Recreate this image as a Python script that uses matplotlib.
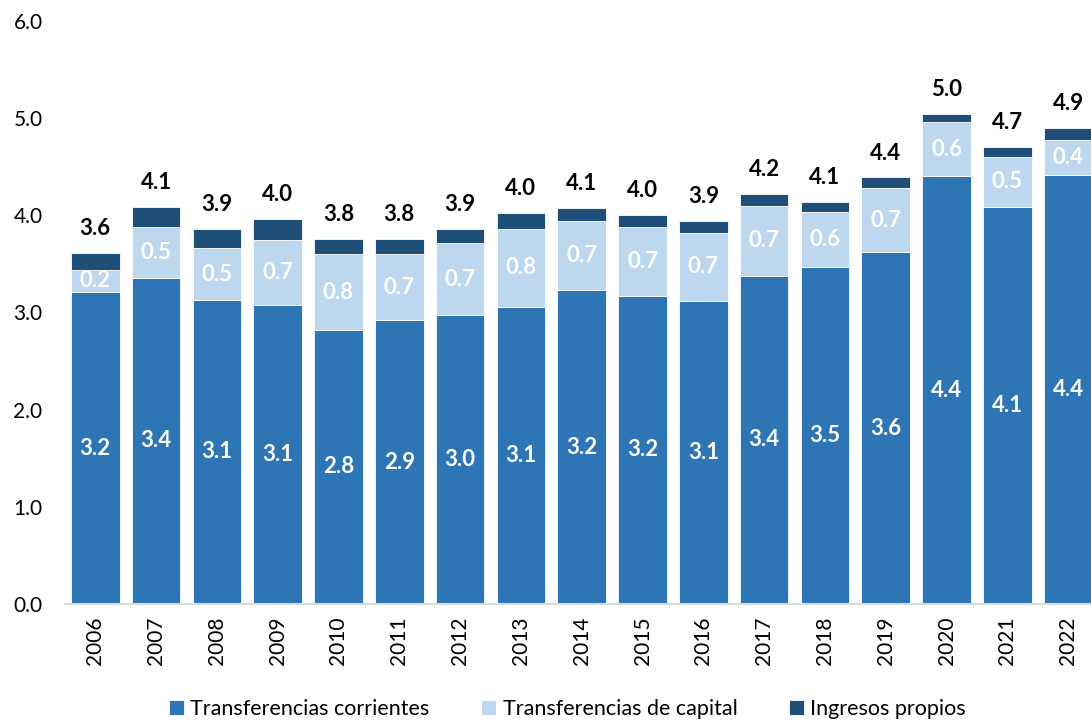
""" Stacked bars: transferencias e ingresos propios, 2006-2022
"""
import matplotlib
matplotlib.use('Agg')
import matplotlib.pyplot as plt
import numpy as np

# data
years = ['2006', '2007', '2008', '2009', '2010', '2011', '2012', '2013', '2014',
         '2015', '2016', '2017', '2018', '2019', '2020', '2021', '2022']
transf_corrientes = [3.21, 3.36, 3.13, 3.08, 2.82, 2.92, 2.97, 3.06, 3.23,
                     3.17, 3.12, 3.38, 3.47, 3.62, 4.40, 4.09, 4.42]
transf_capital = [0.23, 0.52, 0.53, 0.67, 0.78, 0.68, 0.74, 0.80, 0.71,
                  0.71, 0.70, 0.72, 0.56, 0.66, 0.56, 0.51, 0.36]
ingresos_propios = [0.17, 0.21, 0.20, 0.21, 0.16, 0.16, 0.15, 0.16, 0.14,
                    0.12, 0.12, 0.12, 0.11, 0.11, 0.08, 0.10, 0.12]
series_names = ['Transferencias corrientes', 'Transferencias de capital', 'Ingresos propios']

# fig params
plt.rcParams['font.family'] = ['Lato', 'DejaVu Sans']
col_tc = '#2E75B6'
col_tk = '#BDD7EE'
col_ip = '#1F4E79'
fsize_tick = 15
fsize_lab = 16
bar_w = 0.8

fig = plt.figure(figsize=(10.91, 7.21), dpi=100)
ax = fig.add_axes([0.0594, 0.1623, 0.9476, 0.8086])

x = np.arange(len(years))
tc = np.array(transf_corrientes)
tk = np.array(transf_capital)
ip = np.array(ingresos_propios)
tot = tc + tk + ip

b1 = ax.bar(x, tc, bar_w, color=col_tc, edgecolor='white', linewidth=0.6,
            label=series_names[0])
b2 = ax.bar(x, tk, bar_w, bottom=tc, color=col_tk, edgecolor='white',
            linewidth=0.6, label=series_names[1])
b3 = ax.bar(x, ip, bar_w, bottom=tc + tk, color=col_ip, edgecolor='white',
            linewidth=0.6, label=series_names[2])

# labels inside and on top
for i in range(len(years)):
    ax.text(x[i], tc[i] / 2, '%.1f' % tc[i], ha='center', va='center',
            color='white', fontsize=fsize_lab, fontweight='bold')
    ax.text(x[i], tc[i] + tk[i] / 2, '%.1f' % tk[i], ha='center', va='center',
            color='white', fontsize=fsize_lab, fontweight='bold')
    ax.annotate('%.1f' % tot[i], (x[i], tot[i]), xytext=(0, 10),
                textcoords='offset points', ha='center', va='bottom',
                color='black', fontsize=fsize_lab, fontweight='bold')

ax.set_xlim(-0.5, len(years) - 0.5)
ax.set_ylim(0, 6)
ax.set_yticks(np.arange(0, 6.01, 1.0))
ax.set_yticklabels(['%.1f' % v for v in np.arange(0, 6.01, 1.0)], fontsize=fsize_tick)
ax.set_xticks(x)
ax.set_xticklabels(years, rotation=90, fontsize=fsize_tick)
ax.tick_params(axis='y', length=0, pad=16)
ax.tick_params(axis='x', length=0, pad=9)
for s in ['top', 'right', 'left']:
    ax.spines[s].set_visible(False)
ax.spines['bottom'].set_color('#D9D9D9')
ax.spines['bottom'].set_linewidth(1.5)

fig.legend(handles=[b1, b2, b3], loc='lower center', ncol=3, frameon=False,
           fontsize=fsize_tick + 0.5, bbox_to_anchor=(0.52, -0.024),
           handlelength=0.7, handleheight=0.7, handletextpad=0.3,
           columnspacing=2.4)

fig.savefig('out.png', dpi=100)
